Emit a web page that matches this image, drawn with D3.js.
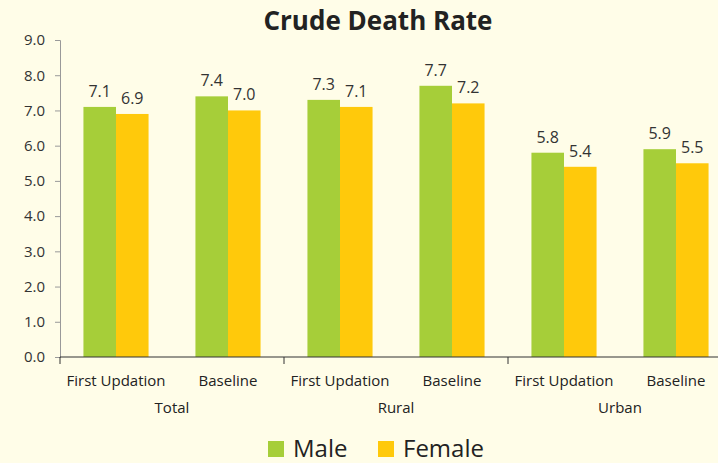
<!DOCTYPE html>
<html>
<head>
<meta charset="utf-8">
<script src="https://cdn.jsdelivr.net/npm/d3@7"></script>
<style>
  body { margin: 0; background: #fffde8; }
  svg { display: block; font-family: "Open Sans", Lato, sans-serif; }
</style>
</head>
<body>
<svg id="chart" width="718" height="463"></svg>
<script>
// Chart data
var groups = ["Total", "Rural", "Urban"];
var periods = ["First Updation", "Baseline"];
var seriesNames = ["Male", "Female"];
var maleValues = [7.1, 7.4, 7.3, 7.7, 5.8, 5.9];
var femaleValues = [6.9, 7.0, 7.1, 7.2, 5.4, 5.5];
var yTicks = [0, 1, 2, 3, 4, 5, 6, 7, 8, 9];
var colors = ["#a6ce39", "#ffc90b"];

var svg = d3.select("#chart");

// build category list: one per group/period pair
var cats = [];
groups.forEach(function (g) {
    periods.forEach(function (p) {
        cats.push({ group: g, period: p, key: g + "|" + p });
    });
});
var values = [maleValues, femaleValues];

// plot area (note: "top" is reserved on window, so use other names)
var plotL = 60, plotR = 732, plotT = 40, plotB = 357;

var x = d3.scaleBand()
    .domain(cats.map(function (d) { return d.key; }))
    .range([plotL, plotR]);

var xSub = d3.scaleBand()
    .domain(seriesNames)
    .range([0, x.bandwidth()])
    .paddingInner(0)
    .paddingOuter(0.72);

var y = d3.scaleLinear().domain([0, 9]).range([plotB, plotT]);

// title
svg.append("text")
    .attr("x", 378).attr("y", 30)
    .attr("text-anchor", "middle")
    .attr("font-size", 26).attr("font-weight", "bold")
    .attr("fill", "#222")
    .text("Crude Death Rate");

// bars
seriesNames.forEach(function (s, si) {
    svg.selectAll(".bar" + si)
        .data(cats)
        .enter().append("rect")
        .attr("x", function (d) { return x(d.key) + xSub(s); })
        .attr("y", function (d, i) { return y(values[si][i]); })
        .attr("width", xSub.bandwidth())
        .attr("height", function (d, i) { return y(0) - y(values[si][i]); })
        .attr("fill", colors[si]);

    svg.selectAll(".lab" + si)
        .data(cats)
        .enter().append("text")
        .attr("x", function (d) { return x(d.key) + xSub(s) + xSub.bandwidth() / 2; })
        .attr("y", function (d, i) { return y(values[si][i]) - 10; })
        .attr("text-anchor", "middle")
        .attr("font-size", 16)
        .attr("fill", "#333")
        .text(function (d, i) { return values[si][i].toFixed(1); });
});

// y axis
var yAxis = svg.append("g")
    .attr("transform", "translate(" + plotL + ",0)")
    .call(d3.axisLeft(y).tickValues(yTicks).tickFormat(d3.format(".1f")).tickSize(5).tickPadding(10));
yAxis.select(".domain").attr("stroke", "#999");
yAxis.selectAll(".tick line").attr("stroke", "#999");
yAxis.selectAll("text").attr("font-size", 15).attr("fill", "#333")
    .attr("font-family", "'Open Sans', Lato, sans-serif");

// x axis baseline
svg.append("line")
    .attr("x1", plotL).attr("x2", plotR)
    .attr("y1", y(0)).attr("y2", y(0))
    .attr("stroke", "#333").attr("stroke-width", 1.2);

// group separators
var gScale = d3.scaleBand().domain(groups).range([plotL, plotR]);
groups.forEach(function (g) {
    svg.append("line")
        .attr("x1", gScale(g)).attr("x2", gScale(g))
        .attr("y1", y(0)).attr("y2", y(0) + 7)
        .attr("stroke", "#333");
});

// category labels
svg.selectAll(".cat")
    .data(cats)
    .enter().append("text")
    .attr("x", function (d) { return x(d.key) + x.bandwidth() / 2; })
    .attr("y", 386)
    .attr("text-anchor", "middle")
    .attr("font-size", 15).attr("fill", "#222")
    .text(function (d) { return d.period; });

svg.selectAll(".grp")
    .data(groups)
    .enter().append("text")
    .attr("x", function (d) { return gScale(d) + gScale.bandwidth() / 2; })
    .attr("y", 413)
    .attr("text-anchor", "middle")
    .attr("font-size", 15).attr("fill", "#222")
    .text(function (d) { return d; });

// legend
var legendX = [268, 378];
seriesNames.forEach(function (s, si) {
    svg.append("rect")
        .attr("x", legendX[si]).attr("y", 441)
        .attr("width", 16).attr("height", 16)
        .attr("fill", colors[si]);
    svg.append("text")
        .attr("x", legendX[si] + 25).attr("y", 457)
        .attr("font-size", 24).attr("fill", "#222")
        .text(s);
});
</script>
</body>
</html>
